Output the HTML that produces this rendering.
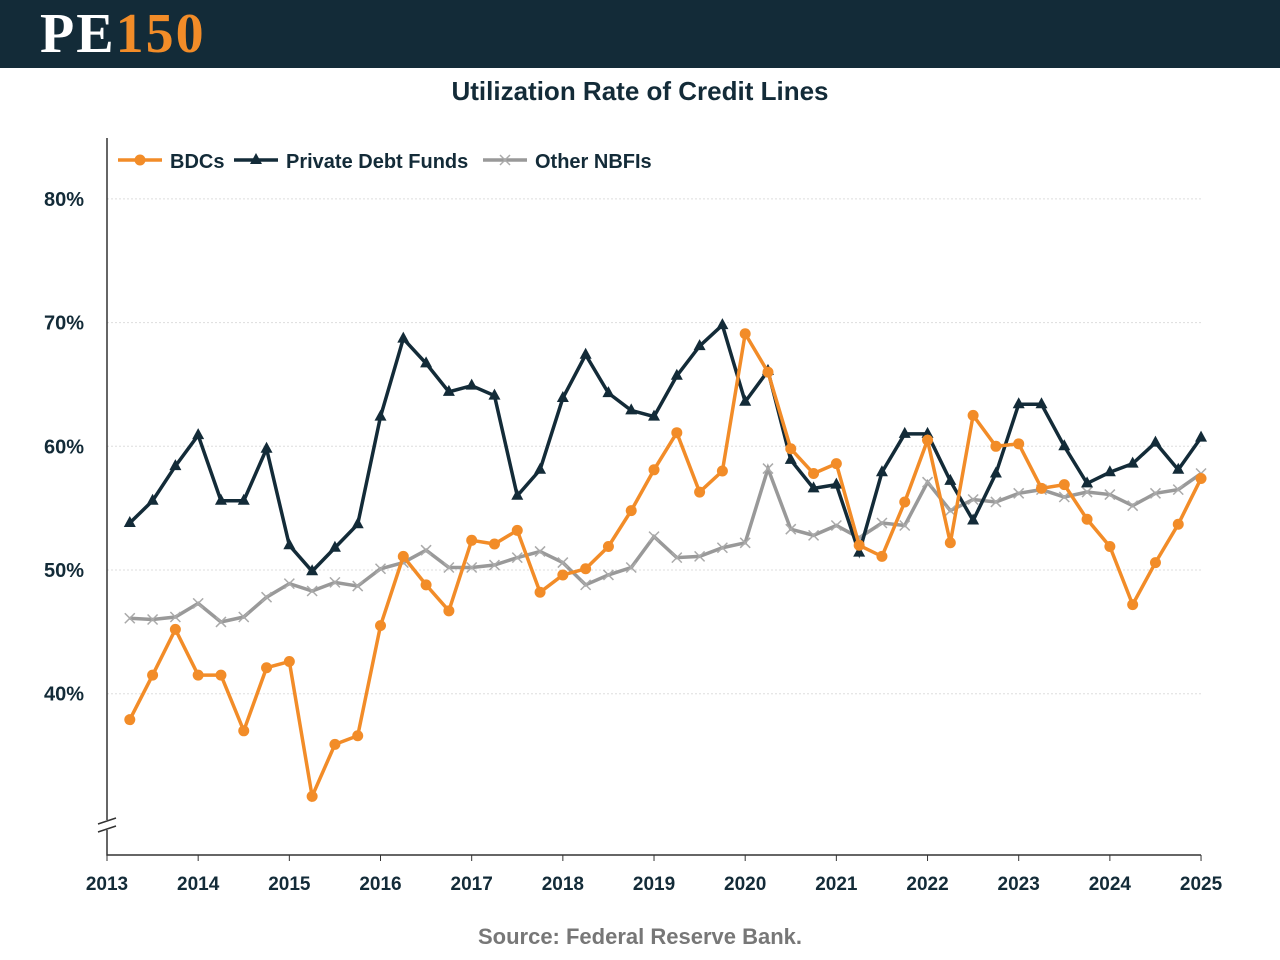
<!DOCTYPE html>
<html><head><meta charset="utf-8"><style>
body{margin:0;width:1280px;height:960px;background:#fff;font-family:"Liberation Sans",sans-serif;overflow:hidden}
#hdr{position:absolute;left:0;top:0;width:1280px;height:68px;background:#132b38}
#logo{position:absolute;left:40px;top:2px;font-family:"Liberation Serif",serif;font-weight:bold;font-size:56px;color:#fff;letter-spacing:2px}
#logo span{color:#f28c28}
#title{position:absolute;top:76px;width:1280px;text-align:center;font-size:26px;font-weight:bold;color:#132b38}
#src{position:absolute;top:924px;width:1280px;text-align:center;font-size:22px;font-weight:bold;color:#777}
</style></head><body>
<div id="hdr"><div id="logo">PE<span>150</span></div></div>
<div id="title">Utilization Rate of Credit Lines</div>
<svg id="chart" width="1280" height="960" style="position:absolute;left:0;top:0"></svg>
<div id="src">Source: Federal Reserve Bank.</div>
<script>
const bdc=[37.9,41.5,45.2,41.5,41.5,37.0,42.1,42.6,31.7,35.9,36.6,45.5,51.1,48.8,46.7,52.4,52.1,53.2,48.2,49.6,50.1,51.9,54.8,58.1,61.1,56.3,58.0,69.1,66.0,59.8,57.8,58.6,52.0,51.1,55.5,60.5,52.2,62.5,60.0,60.2,56.6,56.9,54.1,51.9,47.2,50.6,53.7,57.4];
const pdf=[53.8,55.6,58.4,60.9,55.6,55.6,59.8,52.0,49.9,51.8,53.7,62.4,68.7,66.7,64.4,64.9,64.1,56.0,58.1,63.9,67.4,64.3,62.9,62.4,65.7,68.1,69.8,63.6,66.1,58.9,56.6,56.9,51.4,57.9,61.0,61.0,57.2,54.0,57.8,63.4,63.4,60.0,57.0,57.9,58.6,60.3,58.1,60.7];
const nbfi=[46.1,46.0,46.2,47.3,45.8,46.2,47.8,48.9,48.3,49.0,48.7,50.1,50.6,51.6,50.2,50.2,50.4,51.0,51.5,50.6,48.8,49.6,50.2,52.7,51.0,51.1,51.8,52.2,58.2,53.3,52.8,53.6,52.6,53.8,53.6,57.1,54.8,55.7,55.5,56.2,56.5,55.9,56.3,56.1,55.2,56.2,56.5,57.8];
const yTicks=[40,50,60,70,80];
const xYears=[2013,2014,2015,2016,2017,2018,2019,2020,2021,2022,2023,2024,2025];
const NS='http://www.w3.org/2000/svg',svg=document.getElementById('chart');
const X=t=>107+(t-2013)*91.17, Y=v=>570-(v-50)*12.37;
function mk(tag,a,p){const e=document.createElementNS(NS,tag);for(const k in a)e.setAttribute(k,a[k]);(p||svg).appendChild(e);return e;}
yTicks.forEach(v=>{const g=mk('line',{x1:107,x2:1201,y1:Y(v),y2:Y(v),stroke:'#ddd','stroke-dasharray':'2,2'});

const t=mk('text',{x:84,y:Y(v)+7,'text-anchor':'end','font-size':20,'font-weight':'bold',fill:'#132b38'});t.textContent=v+'%';
});
const ax=mk('path',{d:'M107 138V820M107 830V855H1201',stroke:'#333','stroke-width':1.5,fill:'none'});

mk('path',{d:'M98 824L116 818M98 832L116 826',stroke:'#333','stroke-width':1.5});
xYears.forEach(y=>{mk('line',{x1:X(y),x2:X(y),y1:855,y2:861,stroke:'#333'});
const t=mk('text',{x:X(y),y:890,'text-anchor':'middle','font-size':19,'font-weight':'bold',fill:'#132b38'});t.textContent=y;
});
function series(d,col,m,name){const g=mk('g',{});
const pts=d.map((v,i)=>[X(2013.25+i*0.25),Y(v)]);
mk('polyline',{points:pts.map(p=>p.join(',')).join(' '),fill:'none',stroke:col,'stroke-width':3.5},g);
pts.forEach(p=>marker(p[0],p[1],col,m,g));}
function marker(x,y,col,m,g){if(m=='c')mk('circle',{cx:x,cy:y,r:5.5,fill:col},g);
else if(m=='t')mk('path',{d:`M${x} ${y-7}L${x+6} ${y+4}L${x-6} ${y+4}Z`,fill:col},g);
else mk('path',{d:`M${x-5} ${y-5}L${x+5} ${y+5}M${x+5} ${y-5}L${x-5} ${y+5}`,stroke:'#aaa','stroke-width':1.5},g);}
series(nbfi,'#999','x','series-other-nbfis');
series(pdf,'#132b38','t','series-private-debt-funds');
series(bdc,'#f28c28','c','series-bdcs');
[[118,'#f28c28','c','BDCs'],[234,'#132b38','t','Private Debt Funds'],[483,'#999','x','Other NBFIs']].forEach(l=>{
const g=mk('g',{});
mk('line',{x1:l[0],x2:l[0]+44,y1:160,y2:160,stroke:l[1],'stroke-width':3.5},g);marker(l[0]+22,160,l[1],l[2],g);
const t=mk('text',{x:l[0]+52,y:168,'font-size':20,'font-weight':'bold',fill:'#132b38'},g);t.textContent=l[3];});
</script></body></html>
